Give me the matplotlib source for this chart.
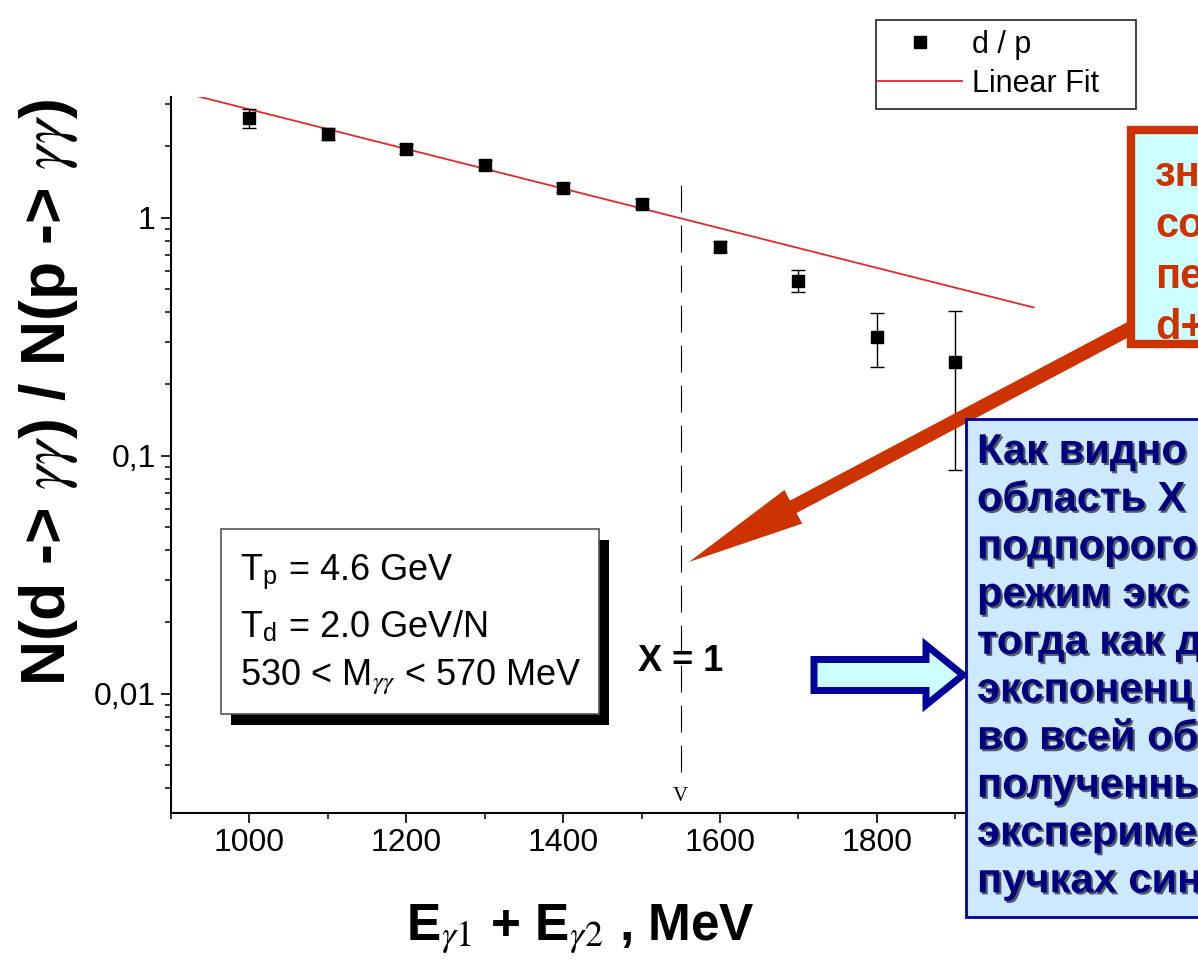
import numpy as np
import matplotlib
matplotlib.use("Agg")
import matplotlib.pyplot as plt
import matplotlib.patches as mpatches
import matplotlib.patheffects as pe
from matplotlib.ticker import MultipleLocator, FuncFormatter, NullFormatter, LogLocator

# Данные: отношение выходов d/p по сумме энергий фотонов
energy = [1000, 1100, 1200, 1300, 1400, 1500, 1600, 1700, 1800, 1900]
ratio = [2.63, 2.25, 1.95, 1.67, 1.34, 1.145, 0.756, 0.544, 0.317, 0.247]
ratio_err = [0.24, 0.13, 0.10, 0.08, 0.06, 0.05, 0.04, 0.057, 0.08, 0.16]

# Линейный фит (в логарифмическом масштабе) — концы прямой
fit_x = [928, 2000]
fit_y = [3.28, 0.42]

# Порог X = 1
threshold_x = 1550
threshold_y = [0.0047, 1.37]

x_major = [1000, 1200, 1400, 1600, 1800]

info_lines = [r"T$_\mathregular{p}$ = 4.6 GeV",
              r"T$_\mathregular{d}$ = 2.0 GeV/N",
              r"530 < M$_{\gamma\gamma}$ < 570 MeV"]
red_lines = ["зн", "со", "пе", "d+"]
blue_lines = ["Как видно", "область Х", "подпорого", "режим экс",
              "тогда как д", "экспоненц", "во всей об", "полученны",
              "эксперимен", "пучках син"]

W, H = 1198, 973
RED = "#CC3300"
NAVY = "#000099"

plt.rcParams["font.family"] = ["Liberation Sans", "DejaVu Sans"]
plt.rcParams["mathtext.fontset"] = "stix"

fig = plt.figure(figsize=(W / 100, H / 100), dpi=100)
fig.patch.set_facecolor("white")
ax_l, ax_r, ax_t, ax_b = 171, 1112, 97, 813
ax = fig.add_axes([ax_l / W, 1 - ax_b / H, (ax_r - ax_l) / W, (ax_b - ax_t) / H])

ax.set_yscale("log")
ax.set_xlim(900, 2100)
ax.set_ylim(0.00315, 3.22)

ax.errorbar(energy, ratio, yerr=ratio_err, fmt="none", ecolor="black",
            elinewidth=1, capsize=5, capthick=1, zorder=3)
ax.plot(energy, ratio, "s", color="black", ms=8.5, zorder=4, label="d / p")
ax.plot(fit_x, fit_y, color="#E02A2A", lw=1.3, zorder=2, label="Linear Fit")
ax.vlines(threshold_x, threshold_y[0], threshold_y[1], colors="black",
          linestyles=[(0, (24, 12))], lw=0.8)
ax.text(threshold_x, 0.0037, "V", ha="center", va="center", fontsize=15,
        family="Liberation Serif")
ax.text(threshold_x, 0.0136, "X = 1", ha="center", va="center",
        fontsize=26, fontweight="bold")

for side in ("top", "right"):
    ax.spines[side].set_visible(False)
for side in ("left", "bottom"):
    ax.spines[side].set_linewidth(1.5)

ax.set_xticks(x_major)
ax.xaxis.set_minor_locator(MultipleLocator(100))
ax.yaxis.set_major_locator(LogLocator(base=10))
ax.yaxis.set_minor_locator(LogLocator(base=10, subs=range(2, 10)))
ax.yaxis.set_major_formatter(FuncFormatter(lambda v, _: f"{v:g}".replace(".", ",")))
ax.yaxis.set_minor_formatter(NullFormatter())
ax.tick_params(which="major", direction="out", length=7, width=1.2,
               labelsize=23, pad=4)
ax.tick_params(which="minor", direction="out", length=4, width=1.1)

ax.set_xlabel(r"E$_{\gamma1}$ + E$_{\gamma2}$ , MeV", fontsize=37, fontweight="bold")
ax.xaxis.set_label_coords((580 - ax_l) / (ax_r - ax_l), (ax_b - 903) / (ax_b - ax_t))
ax.set_ylabel(r"N(d -> $\gamma\gamma$) / N(p -> $\gamma\gamma$)", fontsize=45,
              fontweight="bold")
ax.yaxis.set_label_coords((80 - ax_l) / (ax_r - ax_l), (ax_b - 392) / (ax_b - ax_t))

leg = ax.legend(loc="upper left", bbox_to_anchor=(878 / W, 1 - 30 / H),
                bbox_transform=fig.transFigure, borderaxespad=0, frameon=False,
                fontsize=22, handlelength=2.75, handletextpad=0.33,
                borderpad=0, labelspacing=0.3)

# Верхний слой в пикселях для рамок и стрелок
ov = fig.add_axes([0, 0, 1, 1], zorder=5)
ov.set_xlim(0, W)
ov.set_ylim(H, 0)
ov.axis("off")

# рамка легенды
ov.add_patch(mpatches.Rectangle((876, 20), 260, 89, fc="none", ec="#333333", lw=1.3))

# рамка с параметрами
ov.add_patch(mpatches.Rectangle((231, 540), 378, 185, fc="black", ec="none"))
ov.add_patch(mpatches.Rectangle((221, 529), 378, 185, fc="white", ec="#555555", lw=1.2))
for line, yb in zip(info_lines, [580, 637, 685]):
    ov.text(240, yb, line, fontsize=26, va="baseline", ha="left")

# красная стрелка
ov.add_patch(mpatches.FancyArrow(1150, 318, 689 - 1150, 562 - 318, width=14,
                                 head_width=38, head_length=118,
                                 length_includes_head=True, fc=RED, ec="none",
                                 zorder=1))

# красная рамка
ov.add_patch(mpatches.Rectangle((1131, 130), 120, 214, fc="#CCFFFF", ec=RED,
                                lw=6, zorder=2))
for i, line in enumerate(red_lines):
    ov.text(1155, 186 + 51 * i, line, fontsize=30, fontweight="bold",
            color=RED, va="baseline", clip_on=True, zorder=3)

# синяя рамка
ov.add_patch(mpatches.Rectangle((966, 419), 300, 498, fc="#CCE9FF", ec=NAVY,
                                lw=2, zorder=2))
for i, line in enumerate(blue_lines):
    ov.text(977, 463 + 47.7 * i, line, fontsize=30, fontweight="bold",
            color="#000080", va="baseline", clip_on=True, zorder=3,
            path_effects=[pe.withSimplePatchShadow(offset=(1.5, -1.5),
                                                   shadow_rgbFace="#222222",
                                                   alpha=0.7)])

# синяя стрелка
arrow_pts = [(814, 659.5), (926, 659.5), (926, 645), (963, 675),
             (926, 705), (926, 690.5), (814, 690.5)]
ov.add_patch(mpatches.Polygon(arrow_pts, closed=True, fc="#CCFFFF", ec=NAVY,
                              lw=5, joinstyle="miter", zorder=2))

fig.savefig("out.png", dpi=100, facecolor="white")
